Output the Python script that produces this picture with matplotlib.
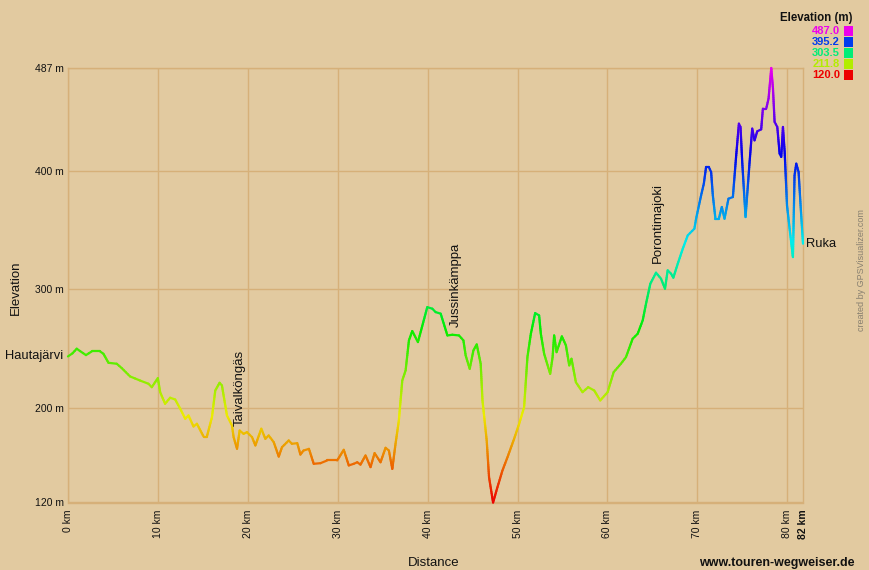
import numpy as np
import matplotlib
matplotlib.use("Agg")
import matplotlib.pyplot as plt
from matplotlib.collections import LineCollection
import colorsys

plt.rcParams['font.family'] = ['Liberation Sans', 'DejaVu Sans']

# ---- data ----
dist_km = [0.0, 0.5, 0.97, 1.34, 2.0, 2.64, 3.57, 3.94, 4.5, 5.42, 5.98, 6.9, 8.02, 8.95, 9.32, 9.99,
           10.25, 10.8, 11.36, 11.92, 12.48, 13.04, 13.4, 13.96, 14.34, 15.08, 15.45, 16.01, 16.38,
           16.86, 17.12, 17.68, 18.24, 18.42, 18.8, 19.09, 19.53, 19.9, 20.47, 20.84, 21.5, 21.95,
           22.32, 22.88, 23.44, 23.8, 24.55, 24.9, 25.5, 25.85, 26.2, 26.8, 27.33, 28.08, 28.82,
           29.94, 30.67, 31.23, 31.79, 32.17, 32.53, 33.09, 33.65, 34.1, 34.76, 35.32, 35.69, 36.07,
           36.43, 36.8, 37.18, 37.55, 37.92, 38.29, 38.92, 39.29, 39.96, 40.52, 40.89, 41.45, 42.2,
           42.75, 43.49, 43.98, 44.23, 44.68, 45.09, 45.46, 45.9, 46.1, 46.57, 46.83, 47.28, 47.76,
           48.32, 48.88, 49.62, 50.18, 50.73, 51.1, 51.48, 51.96, 52.4, 52.59, 52.96, 53.63, 53.9,
           54.07, 54.34, 54.93, 55.38, 55.75, 56.0, 56.49, 57.23, 57.86, 58.53, 59.2, 60.02, 60.69,
           61.5, 62.06, 62.8, 63.36, 63.92, 64.29, 64.77, 65.4, 65.96, 66.4, 66.7, 67.07, 67.33,
           67.82, 68.38, 68.93, 69.67, 69.86, 70.42, 70.72, 70.97, 71.27, 71.53, 71.72, 72.01, 72.39,
           72.72, 73.02, 73.46, 73.95, 74.32, 74.62, 74.8, 74.99, 75.36, 75.81, 76.1, 76.36, 76.66,
           77.1, 77.29, 77.66, 77.92, 78.22, 78.41, 78.59, 78.89, 79.15, 79.33, 79.52, 79.71, 79.97,
           80.26, 80.63, 80.81, 81.0, 81.26, 81.48, 81.75]
elev_m = [243.4, 246.0, 249.9, 247.9, 244.5, 247.6, 247.6, 245.6, 238.0, 237.2, 233.5, 226.5, 223.0,
          220.3, 217.4, 225.0, 213.2, 203.4, 208.5, 207.0, 199.2, 190.7, 193.5, 184.2, 186.5, 175.7,
          175.7, 192.0, 214.6, 221.1, 218.9, 193.5, 185.0, 175.2, 165.4, 180.8, 178.0, 179.4, 175.2,
          168.2, 182.3, 173.8, 176.6, 171.0, 158.8, 166.7, 172.4, 169.6, 170.1, 160.5, 163.9, 165.3,
          152.7, 153.2, 155.5, 155.5, 164.5, 151.3, 152.7, 154.0, 152.0, 159.7, 149.9, 161.7, 154.0,
          166.2, 163.9, 148.4, 169.6, 189.3, 223.1, 231.5, 256.9, 264.8, 255.5, 265.9, 285.0, 283.7,
          280.8, 279.5, 261.1, 261.7, 261.1, 256.9, 244.2, 232.9, 248.4, 253.5, 237.2, 206.2, 172.4,
          141.4, 120.0, 132.8, 147.0, 158.2, 173.8, 186.5, 200.5, 242.8, 262.5, 280.0, 278.0, 262.5,
          245.6, 228.7, 242.8, 261.1, 247.0, 260.3, 252.7, 235.8, 241.4, 221.6, 213.2, 217.4, 214.6,
          206.2, 213.2, 230.1, 237.2, 242.8, 258.3, 262.5, 273.8, 287.9, 304.8, 314.1, 309.0, 300.6,
          316.1, 313.3, 309.9, 321.7, 334.4, 345.6, 351.3, 359.7, 379.5, 389.3, 403.4, 403.4, 399.2,
          379.5, 359.7, 359.7, 369.6, 359.7, 376.6, 378.0, 413.2, 440.0, 437.2, 407.6, 361.1, 407.6,
          435.8, 425.9, 433.5, 435.2, 452.7, 452.7, 461.2, 487.0, 469.7, 441.5, 437.2, 414.7, 411.9,
          437.2, 416.1, 371.0, 351.3, 327.3, 396.3, 406.2, 399.2, 371.0, 338.6]

x_ticks = [0, 10, 20, 30, 40, 50, 60, 70, 80]
x_tick_labels = ["0 km", "10 km", "20 km", "30 km", "40 km", "50 km", "60 km", "70 km", "80 km"]
y_ticks = [120, 200, 300, 400, 487]
y_tick_labels = ["120 m", "200 m", "300 m", "400 m", "487 m"]
legend_values = ["487.0", "395.2", "303.5", "211.8", "120.0"]
waypoint_names = ["Taivalköngäs", "Jussinkämppa", "Porontimajoki"]
waypoint_km = [19.1, 43.1, 65.6]
waypoint_offset_pt = [3, 6, 8.5]

E_MIN, E_MAX = 120.0, 487.0
X_END = 81.75

def elev_color(e):
    h = (e - E_MIN) / (E_MAX - E_MIN) * (300.0 / 360.0)
    h = min(max(h, 0), 300.0 / 360.0)
    return colorsys.hsv_to_rgb(h, 1.0, 0.93)

BG = '#E2CAA0'
GRID = '#D6B079'

fig = plt.figure(figsize=(8.69, 5.70), dpi=100, facecolor=BG)
ax = fig.add_axes([68 / 869, 1 - 502.5 / 570, (803 - 68) / 869, (502.5 - 68) / 570])
ax.set_facecolor(BG)
ax.set_xlim(0, X_END)
ax.set_ylim(E_MIN, E_MAX)

for xt in x_ticks:
    ax.axvline(xt, color=GRID, lw=1.0, zorder=1)
for yt in y_ticks:
    ax.axhline(yt, color=GRID, lw=1.0, zorder=1)
for s in ax.spines.values():
    s.set_color(GRID)
    s.set_linewidth(1.0)

# elevation-gradient line: each segment of the polyline is split into short
# sub-pieces (along the same straight segment) so the colour can vary smoothly
x = np.array(dist_km)
y = np.array(elev_m)
segs, cols = [], []
for i in range(len(x) - 1):
    n = max(1, int(abs(y[i + 1] - y[i]) / 1.5))
    t = np.linspace(0, 1, n + 1)
    xs = x[i] + (x[i + 1] - x[i]) * t
    ys = y[i] + (y[i + 1] - y[i]) * t
    for j in range(n):
        segs.append([(xs[j], ys[j]), (xs[j + 1], ys[j + 1])])
        cols.append(elev_color((ys[j] + ys[j + 1]) / 2))
lc = LineCollection(segs, colors=cols, linewidths=1.6, capstyle='round', joinstyle='round',
                    zorder=3, clip_on=False)
ax.add_collection(lc)

ax.set_xticks(x_ticks + [X_END])
ax.set_xticklabels(x_tick_labels + ["82 km"], rotation=90, fontsize=7.5, va='top', ha='center')
ax.get_xticklabels()[-1].set_fontweight('bold')
ax.set_yticks(y_ticks)
ax.set_yticklabels(y_tick_labels, fontsize=7.5)
ax.tick_params(axis='y', length=0, pad=3, colors='#111111')
ax.tick_params(axis='x', length=0, pad=5, colors='#111111')

fig.text(16 / 869, 1 - 288 / 570, "Elevation", rotation=90, fontsize=9.5, ha='center', va='center',
         color='#111111')
fig.text(434 / 869, 1 - 563 / 570, "Distance", fontsize=9.5, ha='center', va='center', color='#111111')
fig.text(855 / 869, 1 - 563 / 570, "www.touren-wegweiser.de", fontsize=9, ha='right', va='center',
         color='#111111', fontweight='bold')
fig.text(862 / 869, 1 - 270 / 570, "created by GPSVisualizer.com", rotation=90, fontsize=6.5,
         ha='center', va='center', color='#888070')

# waypoint labels
ax.annotate("Hautajärvi", (dist_km[0], elev_m[0]), xytext=(-3.5, 0), textcoords='offset points',
            ha='right', va='center', fontsize=9.3, color='#111111', annotation_clip=False)
ax.annotate("Ruka", (dist_km[-1], elev_m[-1]), xytext=(2.5, 0), textcoords='offset points',
            ha='left', va='center', fontsize=9.3, color='#111111', annotation_clip=False)
for name, km, off in zip(waypoint_names, waypoint_km, waypoint_offset_pt):
    e = float(np.interp(km, x, y))
    ax.annotate(name, (km, e), xytext=(0, off), textcoords='offset points', rotation=90,
                ha='center', va='bottom', fontsize=9.5, color='#111111')

# legend
fig.text(852 / 869, 1 - 18 / 570, "Elevation (m)", fontsize=8.3, fontweight='bold', ha='right',
         va='center', color='#111111')
for i, v in enumerate(legend_values):
    yy = 1 - (31 + i * 11) / 570
    c = elev_color(float(v))
    fig.text(840 / 869, yy, v, fontsize=8, fontweight='bold', ha='right', va='center', color=c)
    fig.patches.append(plt.Rectangle((844 / 869, yy - 4.5 / 570), 9 / 869, 9 / 570,
                                     transform=fig.transFigure, facecolor=c, edgecolor='none',
                                     figure=fig))

fig.savefig("out.png", dpi=100, facecolor=BG)
